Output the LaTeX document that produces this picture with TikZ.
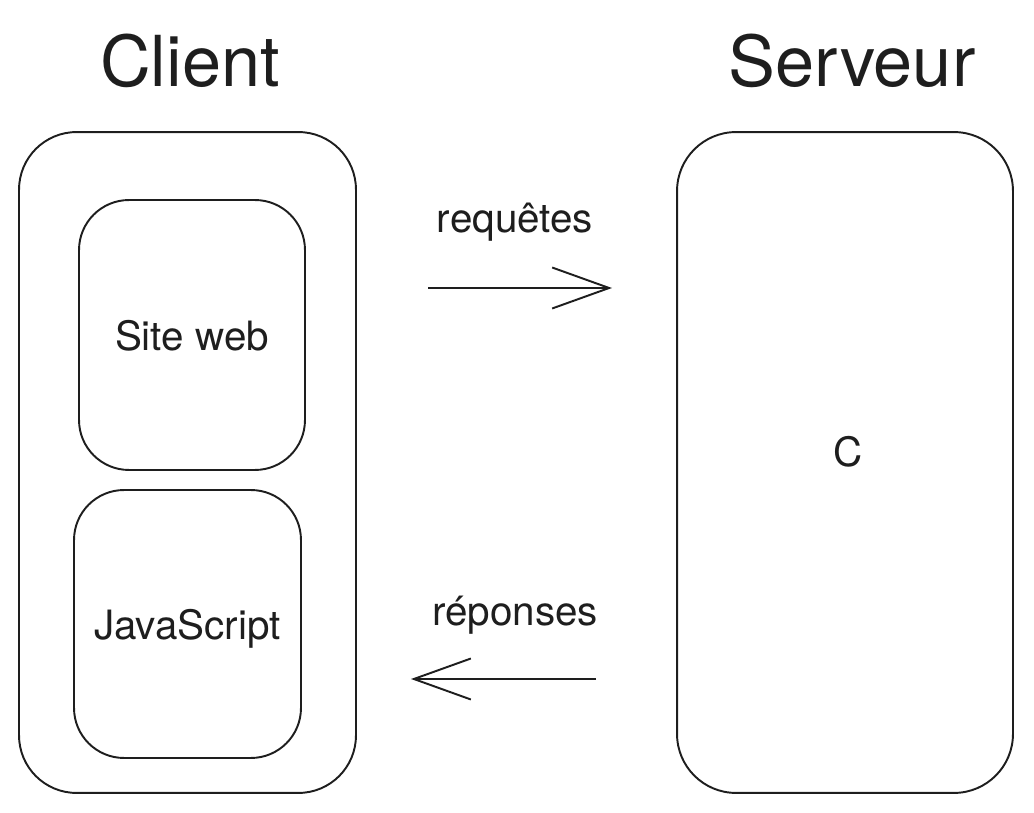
\documentclass[tikz,border=0pt]{standalone}
\usepackage{fontspec}
\setmainfont{TeX Gyre Heros}
\usetikzlibrary{arrows.meta}
\definecolor{inkgray}{HTML}{1E1E1E}

\begin{document}
\begin{tikzpicture}[x=0.02cm, y=-0.02cm, line width=1.1pt, draw=inkgray, text=inkgray,
    bloc/.style={draw=inkgray, rounded corners=#1, inner sep=0pt, text depth=0pt, font=\fontsize{23}{27}\selectfont},
    bloc/.default=1cm,
    titre/.style={anchor=base, font=\fontsize{40}{48}\selectfont},
    legende/.style={anchor=base, font=\fontsize{23}{27}\selectfont},
    fleche/.style={-{Straight Barb[length=1.14cm, width=0.82cm]}, draw=inkgray}]
  \useasboundingbox (0,0) rectangle (1034,813);

  % 1. Titres
  \node[titre] (titreclient)  at (190,87) {Client};
  \node[titre] (titreserveur) at (852,87) {Serveur};

  % 2. Client et ses blocs
  \node[bloc=1.15cm, minimum width=6.74cm, minimum height=13.22cm] (client) at (187.5,462.5) {};
  \node[bloc, minimum width=4.52cm, minimum height=5.4cm]  (siteweb) at (192,335) {Site web};
  \node[bloc, minimum width=4.54cm, minimum height=5.36cm] (javascript) at (187.5,624) {JavaScript};

  % 3. Serveur
  \node[bloc=1.18cm, minimum width=6.72cm, minimum height=13.22cm] (serveur) at (845,462.5) {};
  \node[legende] (langage) at (848,467) {C};

  % 4. Echanges
  \coordinate (reqdepart) at (428,288);
  \coordinate (reqarrivee) at (612,288);
  \coordinate (repdepart) at (596,679);
  \coordinate (reparrivee) at (411,679);
  \draw[fleche] (reqdepart) -- (reqarrivee);
  \draw[fleche] (repdepart) -- (reparrivee);
  \node[legende] (requetes) at (515,233) {requêtes};
  \node[legende] (reponses) at (515,625) {réponses};
\end{tikzpicture}
\end{document}
